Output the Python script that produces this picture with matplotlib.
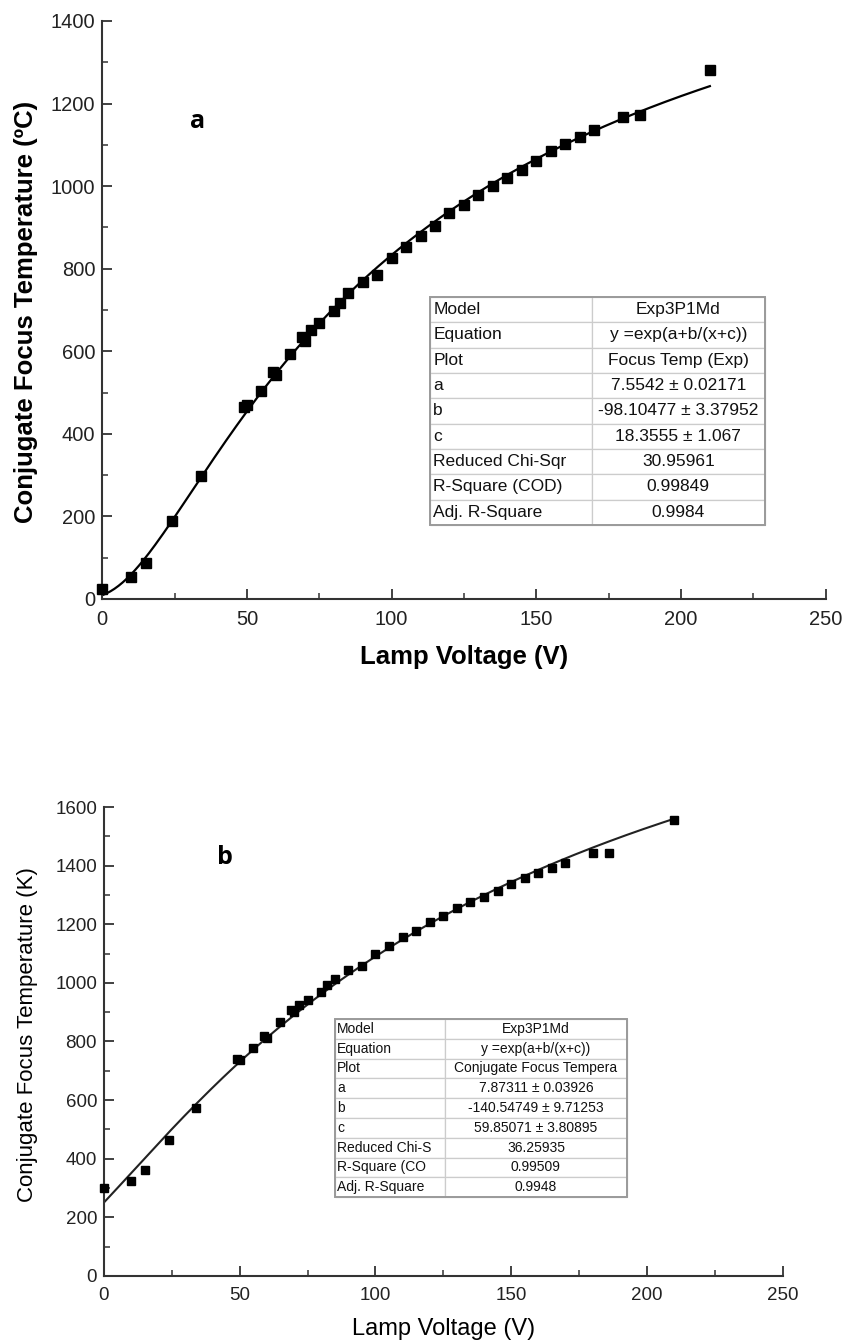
import numpy as np
import matplotlib
matplotlib.use("Agg")
import matplotlib.pyplot as plt
from matplotlib.ticker import MultipleLocator

# data
voltage = [0, 10, 15, 24, 34, 49, 50, 55, 59, 60, 65, 69, 70, 72, 75, 80, 82, 85, 90, 95,
           100, 105, 110, 115, 120, 125, 130, 135, 140, 145, 150, 155, 160, 165, 170, 180, 186, 210]
temp_c = [23, 54, 87, 190, 298, 465, 470, 504, 549, 543, 593, 635, 625, 652, 668, 697, 718, 740, 768, 785,
          825, 852, 880, 903, 934, 954, 978, 1000, 1020, 1040, 1062, 1085, 1102, 1120, 1135, 1167, 1171, 1282]
temp_k = [299, 325, 360, 464, 572, 740, 738, 777, 820, 812, 868, 908, 900, 925, 940, 970, 993, 1012, 1044, 1058,
          1099, 1126, 1155, 1178, 1207, 1228, 1254, 1277, 1294, 1313, 1336, 1357, 1376, 1393, 1410, 1444, 1444, 1556]

# fit parameters (from the tables)
fit_c = [7.5542, -98.10477, 18.3555]
fit_k = [7.87311, -140.54749, 59.85071]

row_names = ['Model', 'Equation', 'Plot', 'a', 'b', 'c', 'Reduced Chi-Sqr', 'R-Square (COD)', 'Adj. R-Square']
row_names_b = ['Model', 'Equation', 'Plot', 'a', 'b', 'c', 'Reduced Chi-S', 'R-Square (CO', 'Adj. R-Square']
vals_a = ['Exp3P1Md', 'y =exp(a+b/(x+c))', 'Focus Temp (Exp)', '7.5542 ± 0.02171', '-98.10477 ± 3.37952',
          '18.3555 ± 1.067', '30.95961', '0.99849', '0.9984']
vals_b = ['Exp3P1Md', 'y =exp(a+b/(x+c))', 'Conjugate Focus Tempera', '7.87311 ± 0.03926', '-140.54749 ± 9.71253',
          '59.85071 ± 3.80895', '36.25935', '0.99509', '0.9948']

sans = ['Liberation Sans', 'DejaVu Sans']


def model(x, p):
    return np.exp(p[0] + p[1] / (x + p[2]))


def style_axes(ax, ymax, ystep, tick_fs):
    ax.spines['top'].set_visible(False)
    ax.spines['right'].set_visible(False)
    for s in ['left', 'bottom']:
        ax.spines[s].set_linewidth(1.5)
        ax.spines[s].set_color('#333333')
    ax.set_xlim(0, 250)
    ax.set_ylim(0, ymax)
    ax.xaxis.set_major_locator(MultipleLocator(50))
    ax.xaxis.set_minor_locator(MultipleLocator(25))
    ax.yaxis.set_major_locator(MultipleLocator(ystep))
    ax.yaxis.set_minor_locator(MultipleLocator(ystep / 2))
    ax.tick_params(which='major', direction='in', length=7, width=1.3, colors='#333333')
    ax.tick_params(which='minor', direction='in', length=4, width=1.1, colors='#333333')
    ax.tick_params(axis='x', pad=8)
    ax.tick_params(axis='y', pad=5)
    for lab in ax.get_xticklabels() + ax.get_yticklabels():
        lab.set_family(sans)
        lab.set_fontsize(tick_fs)
        lab.set_color('#222222')


def add_table(ax, names, vals, bbox, col0, fs):
    tb = ax.table(cellText=[[n, v] for n, v in zip(names, vals)], bbox=bbox,
                  colWidths=[col0, 1 - col0], cellLoc='center')
    tb.auto_set_font_size(False)
    for (r, c), cell in tb.get_celld().items():
        cell.set_edgecolor('#cccccc')
        cell.set_linewidth(0.9)
        t = cell.get_text()
        t.set_fontsize(fs)
        t.set_family(sans)
        t.set_color('#111111')
        if c == 0:
            cell._loc = 'left'
            cell.PAD = 0.02
            t.set_horizontalalignment('left')
    # outer frame
    ax.add_patch(plt.Rectangle((bbox[0], bbox[1]), bbox[2], bbox[3], transform=ax.transAxes,
                               fill=False, edgecolor='#9a9a9a', lw=1.4, zorder=5))


fig = plt.figure(figsize=(8.44, 13.43), dpi=100)

# plot a
ax1 = fig.add_axes([0.1212, 0.554, 0.857, 0.4304])
xs = np.linspace(0, max(voltage), 300)
ax1.plot(xs, model(xs, fit_c), color='black', lw=1.6)
ax1.plot(voltage, temp_c, 's', color='black', markersize=6.8, clip_on=False, zorder=4)
style_axes(ax1, 1400, 200, 14.5)
ax1.set_xlabel('Lamp Voltage (V)', fontsize=18.5, fontweight='bold', family=sans)
ax1.xaxis.set_label_coords(0.5, -0.08)
ax1.set_ylabel('Conjugate Focus Temperature (ºC)', fontsize=18.5, fontweight='bold', family=sans)
ax1.yaxis.set_label_coords(-0.089, 0.497)
ax1.text(0.132, 0.826, 'a', transform=ax1.transAxes, fontsize=18, fontweight='bold',
         family=['Open Sans', 'DejaVu Sans'], ha='center', va='center')
add_table(ax1, row_names, vals_a, [0.453, 0.128, 0.463, 0.3945], 0.483, 12.5)

# plot b
ax2 = fig.add_axes([0.1232, 0.0499, 0.804, 0.3492])
ax2.plot(xs, model(xs, fit_k), color='#222222', lw=1.5)
ax2.plot(voltage, temp_k, 's', color='black', markersize=6.3, clip_on=False, zorder=4)
style_axes(ax2, 1600, 200, 13.5)
ax2.set_xlabel('Lamp Voltage (V)', fontsize=17, family=sans)
ax2.xaxis.set_label_coords(0.501, -0.09)
ax2.set_ylabel('Conjugate Focus Temperature (K)', fontsize=16, family=sans)
ax2.yaxis.set_label_coords(-0.097, 0.514)
ax2.text(0.178, 0.893, 'b', transform=ax2.transAxes, fontsize=18, fontweight='bold',
         family=['Open Sans', 'DejaVu Sans'], ha='center', va='center')
add_table(ax2, row_names_b, vals_b, [0.340, 0.168, 0.431, 0.380], 0.376, 10)

fig.savefig('out.png', dpi=100)
